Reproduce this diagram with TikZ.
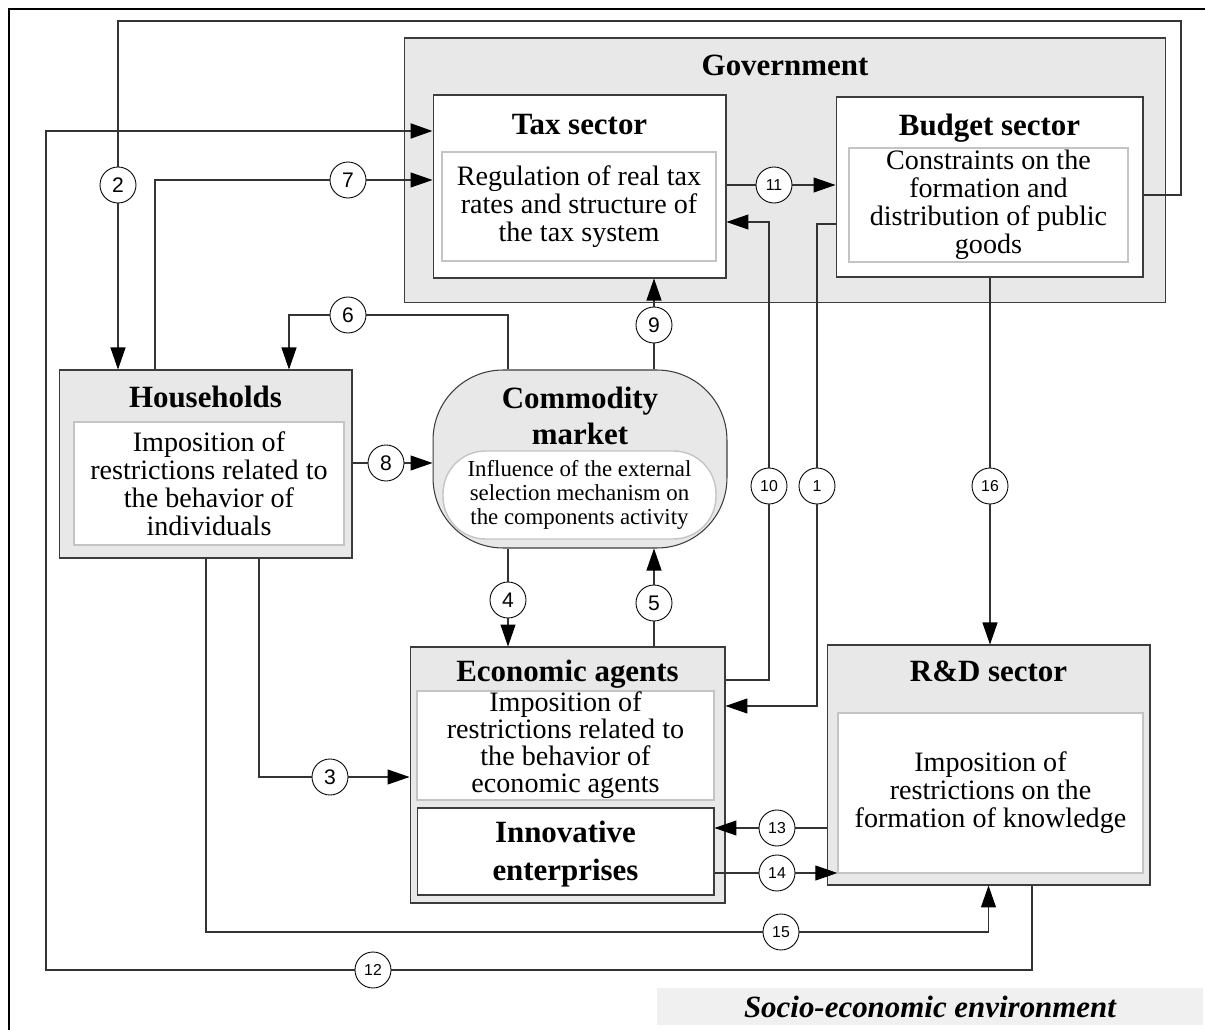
\documentclass[tikz,border=0pt]{standalone}
\usepackage{fontspec}
\setmainfont{Liberation Serif}
\setsansfont{Liberation Sans}
\usetikzlibrary{arrows.meta}

\definecolor{boxgray}{HTML}{E8E8E8}
\definecolor{envgray}{HTML}{F0F0F0}
\definecolor{edgegray}{HTML}{3C3C3C}
\definecolor{innergray}{HTML}{C4C4C4}

\begin{document}
\begin{tikzpicture}[x=0.02cm,y=-0.02cm,
  every node/.style={inner sep=0pt},
  outer/.style={draw=edgegray,fill=boxgray,line width=0.6pt},
  whitebox/.style={draw=edgegray,fill=white,line width=0.6pt},
  inner/.style={draw=innergray,fill=white,line width=0.8pt,align=center,
    font=\fontsize{16}{15.9}\selectfont},
  title/.style={anchor=base,font=\bfseries\fontsize{17.6}{18}\selectfont},
  num/.style={circle,draw=black,fill=white,minimum size=0.72cm,line width=0.5pt,
    font=\sffamily\fontsize{12}{12}\selectfont},
  smallnum/.style={num,font=\sffamily\fontsize{9}{9}\selectfont},
  link/.style={draw=black!80,line width=0.6pt},
  arr/.style={-{Triangle[length=0.44cm,width=0.3cm,color=black]}}]
\useasboundingbox (0,0) rectangle (1205,1030);
\draw[line width=0.7pt] (9,1030) -- (9,9) -- (1205,9);

% government with its two sectors
\node[outer,minimum width=15.24cm,minimum height=5.3cm] (gov) at (785,170.5) {};
\node[title] (govt) at (785,76) {Government};
\node[whitebox,minimum width=5.86cm,minimum height=3.66cm] (tax) at (579.5,186.5) {};
\node[title] (taxt) at (579.5,135) {Tax sector};
\node[inner,minimum width=5.48cm,minimum height=2.18cm] (taxin) at (579,206.5)
  {Regulation of real tax\\rates and structure of\\the tax system};
\node[whitebox,minimum width=6.14cm,minimum height=3.6cm] (bud) at (989.5,187) {};
\node[title] (budt) at (989.5,136) {Budget sector};
\node[inner,minimum width=5.58cm,minimum height=2.28cm] (budin) at (988.5,205)
  {Constraints on the\\formation and\\distribution of public\\goods};

% households
\node[outer,minimum width=5.86cm,minimum height=3.76cm] (hh) at (205.5,464) {};
\node[title] (hht) at (205.5,408) {Households};
\node[inner,minimum width=5.4cm,minimum height=2.46cm] (hhin) at (209,483.5)
  {Imposition of\\restrictions related to\\the behavior of\\individuals};

% commodity market
\node[outer,rounded corners=1.4cm,minimum width=5.88cm,minimum height=3.56cm] (com) at (580,459) {};
\node[inner,rounded corners=0.85cm,minimum width=5.46cm,minimum height=1.76cm,
  font=\fontsize{13}{13.6}\selectfont] (comin) at (579.5,495)
  {Influence of the external\\selection mechanism on\\the components activity};
\node[title] (comt1) at (580,409) {Commodity};
\node[title] (comt2) at (580,445) {market};

% economic agents
\node[outer,minimum width=6.3cm,minimum height=5.12cm] (eco) at (567.5,775) {};
\node[inner,minimum width=5.94cm,minimum height=2.18cm,
  font=\fontsize{16}{15.4}\selectfont] (ecoin) at (565.5,745.5)
  {Imposition of\\restrictions related to\\the behavior of\\economic agents};
\node[title] (ecot) at (567.5,682) {Economic agents};
\node[whitebox,minimum width=5.94cm,minimum height=1.74cm] (inno) at (565.5,851.5) {};
\node[title] (innot1) at (565.5,843) {Innovative};
\node[title] (innot2) at (565.5,881) {enterprises};

% R&D
\node[outer,minimum width=6.46cm,minimum height=4.8cm] (rd) at (988.5,765) {};
\node[title] (rdt) at (988.5,682) {R\&D sector};
\node[inner,minimum width=6.1cm,minimum height=3.2cm] (rdin) at (990.5,793)
  {Imposition of\\restrictions on the\\formation of knowledge};

% environment
\node[fill=envgray,minimum width=10.92cm,minimum height=0.74cm,
  font=\bfseries\itshape\fontsize{17.6}{18}\selectfont] (env) at (930,1006.5)
  {Socio-economic environment};

% numbered links
\node[smallnum] (c1) at (817,486) {1};
\node[num] (c2) at (118,185) {2};
\node[num] (c3) at (330,777) {3};
\node[num] (c4) at (508,600) {4};
\node[num] (c5) at (654,603) {5};
\node[num] (c6) at (348,315) {6};
\node[num] (c7) at (348,180) {7};
\node[num] (c8) at (386,463) {8};
\node[num] (c9) at (654,325) {9};
\node[smallnum] (c10) at (769,486) {10};
\node[smallnum] (c11) at (774,185) {11};
\node[smallnum] (c12) at (373,970) {12};
\node[smallnum] (c13) at (777,828) {13};
\node[smallnum] (c14) at (777,873) {14};
\node[smallnum] (c15) at (781,932) {15};
\node[smallnum] (c16) at (990,486) {16};

\draw[link,arr] (bud.east |- 0,195) -- (1181,195) -- (1181,21) -| (c2) -- (c2 |- hh.north);
\draw[link,arr,line width=1.2pt] (rd.south -| 1032,0) -- (1032,970) -- (c12) -- (46,970) |- (tax.west |- 0,131);
\draw[link,arr] (hh.north -| 155,0) |- (c7) -- (c7 -| tax.west);
\draw[link,arr] (com.north -| 508,0) |- (c6) -| (hh.north -| 289,0);
\draw[link,arr] (com.north -| c9) -- (c9) -- (c9 |- tax.south);
\draw[link,arr] (hh.east |- c8) -- (c8) -- (c8 -| com.west);
\draw[link,arr] (tax.east |- c11) -- (c11) -- (c11 -| bud.west);
\draw[link,arr] (eco.east |- 0,680) -| (c10) -- (c10 |- 0,222) -- (tax.east |- 0,222);
\draw[link,arr] (bud.west |- 0,224) -| (c1) -- (c1 |- 0,706) -- (eco.east |- 0,706);
\draw[link,arr] (bud.south -| c16) -- (c16) -- (c16 |- rd.north);
\draw[link,arr] (com.south -| c4) -- (c4) -- (c4 |- eco.north);
\draw[link,arr] (eco.north -| c5) -- (c5) -- (c5 |- com.south);
\draw[link,arr] (hh.south -| 259,0) |- (c3) -- (c3 -| eco.west);
\draw[link,arr] (hh.south -| 206,0) |- (c15) -| (rd.south);
\draw[link,arr] (rd.west |- c13) -- (c13) -- (c13 -| inno.east);
\draw[link,arr] (inno.east |- c14) -- (c14) -- (c14 -| rdin.west);
\end{tikzpicture}
\end{document}
